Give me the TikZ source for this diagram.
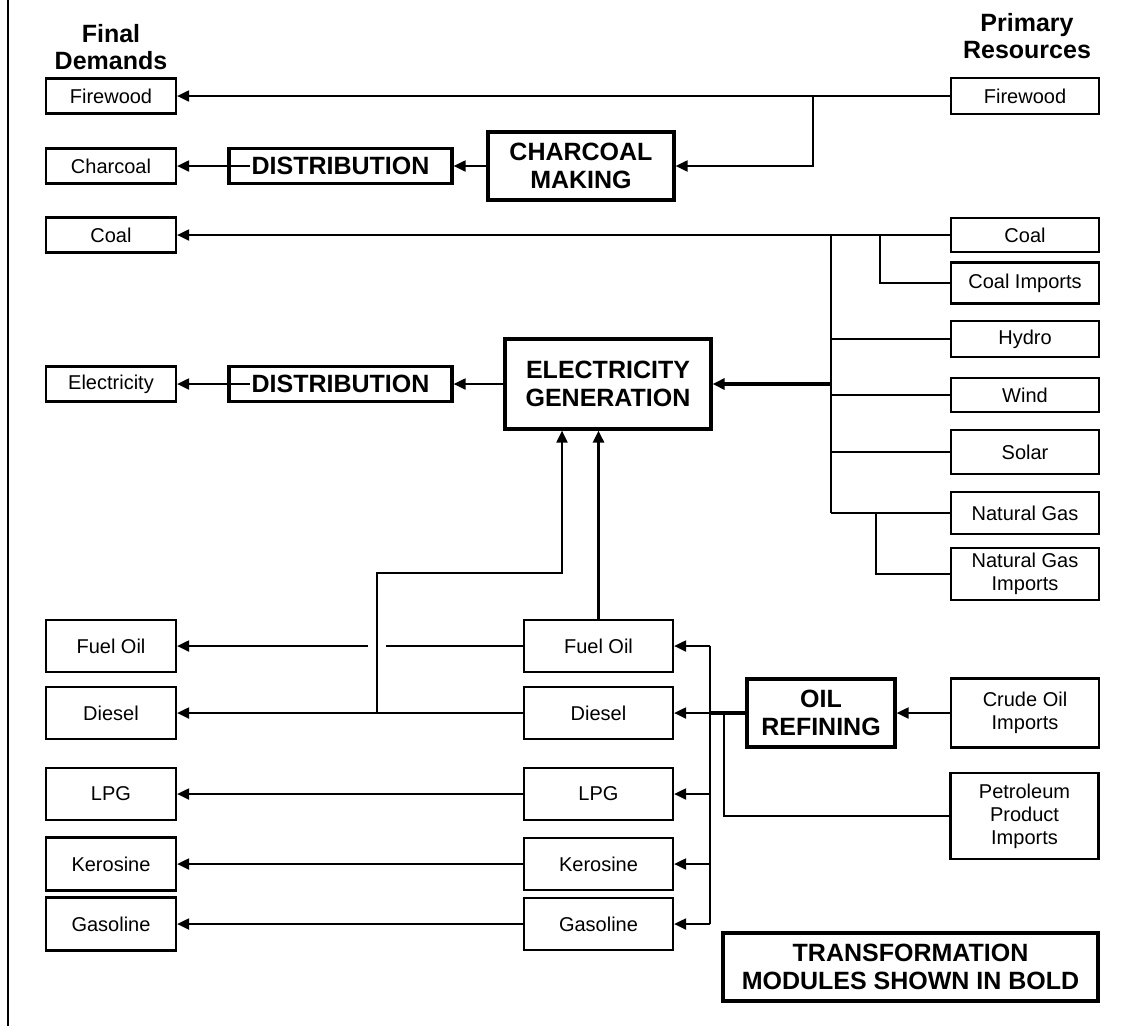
\documentclass[tikz,border=0pt]{standalone}
\usepackage{fontspec}
\setmainfont{Liberation Sans}
\usetikzlibrary{arrows.meta}
\begin{document}
\begin{tikzpicture}[x=1pt,y=-1pt,
  box/.style={draw, line width=2.2pt, inner sep=0pt, align=center,
    font=\fontsize{20}{23}\selectfont},
  mod/.style={draw, line width=3.2pt, inner sep=0pt, align=center,
    font=\fontsize{25}{28}\selectfont\bfseries},
  head/.style={inner sep=0pt, align=center,
    font=\fontsize{25}{27}\selectfont\bfseries},
  link/.style={line width=2pt},
  flow/.style={line width=2pt, -{Triangle[length=12pt,width=11pt]}},
  heavy/.style={line width=3.2pt},
  lbox/.style={box, minimum width=130pt},
  mbox/.style={box, minimum width=149pt},
  rbox/.style={box, minimum width=148pt},
]
\useasboundingbox (0,0) rectangle (1145,1026);
\draw[line width=2.4pt] (8,0) -- (8,1026);

% column headings
\node[head] (hFinal) at (111,47) {Final\\Demands};
\node[head] (hPrim) at (1027,36.5) {Primary\\Resources};

% final demands
\node[lbox, minimum height=35pt] (dFw)   at (111,96)  {Firewood};
\node[lbox, minimum height=35pt] (dCh)   at (111,166) {Charcoal};
\node[lbox, minimum height=35pt] (dCoal) at (111,235) {Coal};
\node[lbox, minimum height=35pt] (dEl)   at (111,384) {Electricity};
\node[lbox, minimum height=52pt] (dFuel) at (111,646) {Fuel Oil};
\node[lbox, minimum height=52pt] (dDie)  at (111,713) {Diesel};
\node[lbox, minimum height=52pt] (dLPG)  at (111,794) {LPG};
\node[lbox, minimum height=53pt] (dKer)  at (111,864) {Kerosine};
\node[lbox, minimum height=53pt] (dGas)  at (111,924) {Gasoline};

% refined products
\node[mbox, minimum height=52pt] (mFuel) at (598.5,646) {Fuel Oil};
\node[mbox, minimum height=52pt] (mDie)  at (598.5,713) {Diesel};
\node[mbox, minimum height=52pt] (mLPG)  at (598.5,794) {LPG};
\node[mbox, minimum height=52pt] (mKer)  at (598.5,864) {Kerosine};
\node[mbox, minimum height=52pt] (mGas)  at (598.5,924) {Gasoline};

% transformation modules
\node[mod, minimum width=223pt, minimum height=35pt] (distC) at (340.5,166) {DISTRIBUTION};
\node[mod, minimum width=223pt, minimum height=35pt] (distE) at (340.5,384) {DISTRIBUTION};
\node[mod, minimum width=186pt, minimum height=68pt] (cm)  at (581,166) {CHARCOAL\\MAKING};
\node[mod, minimum width=206pt, minimum height=90pt] (eg)  at (608,384) {ELECTRICITY\\GENERATION};
\node[mod, minimum width=148pt, minimum height=68pt] (ref) at (821,713) {OIL\\REFINING};
\node[mod, minimum width=375pt, minimum height=68pt] (note) at (910.5,967)
  {TRANSFORMATION\\MODULES SHOWN IN BOLD};

% primary resources
\node[rbox, minimum height=36pt] (rFw)    at (1025,96)  {Firewood};
\node[rbox, minimum height=34pt] (rCoal)  at (1025,235) {Coal};
\node[rbox, minimum height=41pt] (rCI)    at (1025,283) {Coal Imports};
\node[rbox, minimum height=36pt] (rHy)    at (1025,339) {Hydro};
\node[rbox, minimum height=34pt] (rWi)    at (1025,395) {Wind};
\node[rbox, minimum height=44pt] (rSo)    at (1025,452) {Solar};
\node[rbox, minimum height=42pt] (rNG)    at (1025,513) {Natural Gas};
\node[rbox, minimum height=52pt] (rNGI)   at (1025,574) {Natural Gas\\Imports};
\node[rbox, minimum height=69pt] (rCrude) at (1025,713) {Crude Oil\\Imports};
\node[rbox, minimum height=86pt] (rPet)   at (1024.5,816) {Petroleum\\Product\\Imports};

% junction points
\coordinate (jFw) at (813,96);
\coordinate (jCoal) at (831,235);
\coordinate (jCI) at (880,235);
\coordinate (jNG) at (831,513);
\coordinate (jNGI) at (876,513);
\coordinate (jEG) at (831,384);
\coordinate (distCin) at (250,166);
\coordinate (distEin) at (250,384);
\coordinate (jOtop) at (710,646);
\coordinate (jObot) at (710,924);
\coordinate (jOref) at (710,713);
\coordinate (jPet) at (724,713);
\coordinate (jDie) at (377,713);
\coordinate (jUp) at (562,573);
\coordinate (gapR) at (386,646);
\coordinate (gapL) at (368,646);

% firewood and charcoal
\draw[flow] (rFw) -- (dFw);
\draw[flow] (jFw) |- (cm.east);
\draw[flow] (cm) -- (distC);
\draw[flow] (distCin) -- (dCh.east);

% coal and electricity
\draw[flow] (rCoal) -- (dCoal);
\draw[link] (rCI.west) -| (jCI);
\draw[link] (jCoal) -- (jNG);
\draw[link] (rHy.west) -- (rHy.west -| jCoal);
\draw[link] (rWi.west) -- (rWi.west -| jCoal);
\draw[link] (rSo.west) -- (rSo.west -| jCoal);
\draw[link] (rNG.west) -- (jNG);
\draw[link] (rNGI.west) -| (jNGI);
\draw[flow, heavy] (jEG) -- (eg.east);
\draw[flow] (eg) -- (distE);
\draw[flow] (distEin) -- (dEl.east);

% oil refining
\draw[flow] (rCrude) -- (ref);
\draw[heavy] (ref.west) -- (jOref);
\draw[line width=2.8pt] (jOtop) -- (jObot);
\draw[link] (rPet.west) -| (jPet);
\draw[flow] (jOtop) -- (mFuel.east);
\draw[flow] (jOref) -- (mDie.east);
\draw[flow] (mLPG.east -| jOtop) -- (mLPG.east);
\draw[flow] (mKer.east -| jOtop) -- (mKer.east);
\draw[flow] (jObot) -- (mGas.east);

% refined products to final demands and to generation
\draw[link] (mFuel.west) -- (gapR);
\draw[flow] (gapL) -- (dFuel.east);
\draw[flow] (mDie) -- (dDie);
\draw[flow] (mLPG) -- (dLPG);
\draw[flow] (mKer) -- (dKer);
\draw[flow] (mGas) -- (dGas);
\draw[flow] (jDie) |- (jUp) -- (eg.south -| jUp);
\draw[flow, line width=2.8pt] (mFuel.north) -- (eg.south -| mFuel.north);
\end{tikzpicture}
\end{document}
